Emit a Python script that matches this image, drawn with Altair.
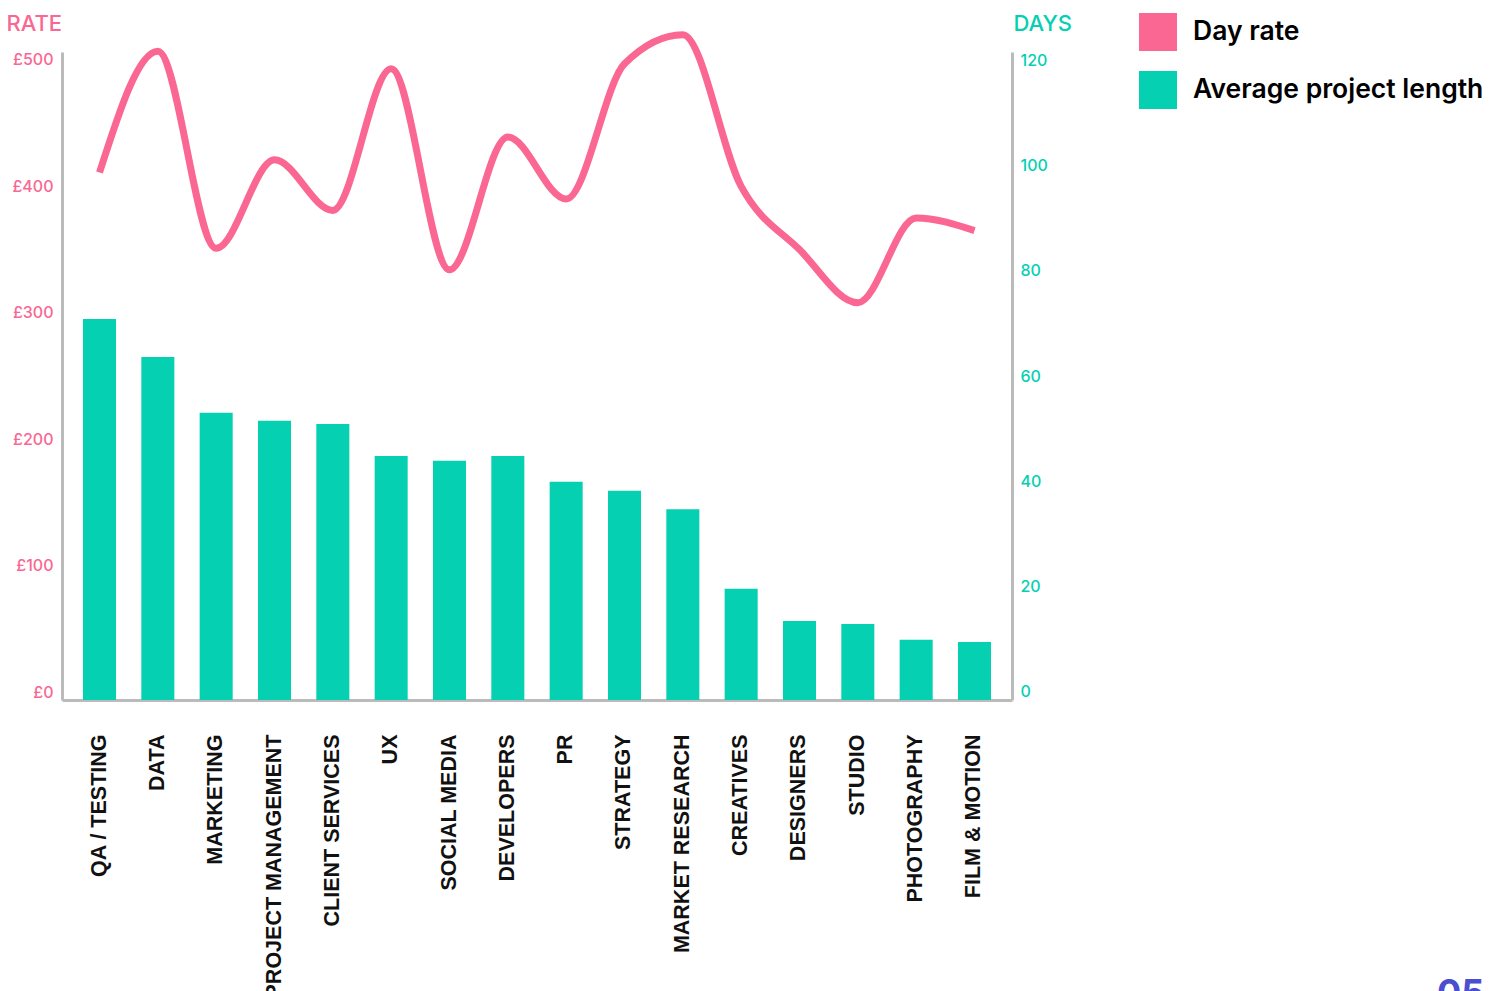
import altair as alt
import pandas as pd

categories = [
    "QA / TESTING", "DATA", "MARKETING", "PROJECT MANAGEMENT", "CLIENT SERVICES",
    "UX", "SOCIAL MEDIA", "DEVELOPERS", "PR", "STRATEGY", "MARKET RESEARCH",
    "CREATIVES", "DESIGNERS", "STUDIO", "PHOTOGRAPHY", "FILM & MOTION",
]
day_rate = [411, 507, 351, 421, 381, 493, 334, 439, 390, 497, 520, 400, 350, 308, 375, 365]
project_days = [70.8, 63.6, 53.0, 51.5, 50.9, 44.8, 43.9, 44.8, 39.9, 38.2, 34.7, 19.6, 13.5, 12.9, 9.9, 9.5]
series_names = ["Day rate", "Average project length"]
rate_ticks = [0, 100, 200, 300, 400, 500]
day_ticks = [0, 20, 40, 60, 80, 100, 120]

PINK = "#FA6792"
TEAL = "#05D0B2"
GREY = "#BBBBBB"
W, H = 950, 648
RATE_DOMAIN = [-6.329, 506.329]
DAYS_DOMAIN = [-1.519, 121.519]

df = pd.DataFrame({
    "category": categories,
    "rate": day_rate,
    "days": project_days,
    "series": [series_names[1]] * len(categories),
})

x_axis = alt.Axis(
    title=None, labelAngle=-90, labelAlign="right", labelBaseline="middle",
    labelFont="Liberation Sans", labelFontSize=21.5, labelFontWeight="bold",
    labelColor="#111111",
    labelPadding=34, ticks=False, tickSize=0, domainColor=GREY, domainWidth=3,
    labelLimit=1000, labelOverlap=False, grid=False,
)
x_enc = alt.X(
    "category:N", sort=categories,
    scale=alt.Scale(paddingInner=0.434, paddingOuter=0.36),
    axis=x_axis,
)

line = alt.Chart(df).mark_line(
    color=PINK, strokeWidth=7, interpolate="monotone"
).encode(
    x=x_enc,
    y=alt.Y(
        "rate:Q",
        scale=alt.Scale(domain=RATE_DOMAIN, nice=False, zero=False),
        axis=alt.Axis(
            orient="left", values=rate_ticks, labelExpr="'£' + datum.value",
            labelColor=PINK, labelFont="Inter", labelFontSize=16, labelFontWeight=500,
            labelPadding=9, ticks=False, tickSize=0, grid=False,
            domainColor=GREY, domainWidth=3,
            title="RATE", titleAngle=0, titleX=-56, titleY=-22, titleAlign="left",
            titleBaseline="alphabetic", titleFont="Inter", titleFontSize=22,
            titleFontWeight=500, titleColor=PINK,
        ),
    ),
)

bars = alt.Chart(df).mark_bar(opacity=1).encode(
    x=x_enc,
    y=alt.Y(
        "days:Q",
        scale=alt.Scale(domain=DAYS_DOMAIN, nice=False, zero=False),
        axis=alt.Axis(
            orient="right", values=day_ticks,
            labelColor=TEAL, labelFont="Inter", labelFontSize=16, labelFontWeight=500,
            labelPadding=8, ticks=False, tickSize=0, grid=False,
            domainColor=GREY, domainWidth=3,
            title="DAYS", titleAngle=0, titleX=1, titleY=-22, titleAlign="left",
            titleBaseline="alphabetic", titleFont="Inter", titleFontSize=22,
            titleFontWeight=500, titleColor=TEAL,
        ),
    ),
    y2=alt.datum(DAYS_DOMAIN[0]),
    color=alt.Color(
        "series:N",
        scale=alt.Scale(domain=series_names, range=[PINK, TEAL]),
        legend=alt.Legend(
            title=None, orient="none", legendX=1077, legendY=-39,
            symbolType="square", symbolSize=1444, symbolStrokeWidth=0,
            symbolOpacity=1, labelFont="Inter", labelFontSize=26.5,
            labelFontWeight=600, labelColor="#000000", labelOffset=16,
            rowPadding=20, padding=0, labelLimit=1000,
        ),
    ),
)

page = alt.Chart(pd.DataFrame({"t": ["05"]})).mark_text(
    font="Inter", fontSize=36, fontWeight=700, color="#4A4FCF",
    align="left", baseline="top",
).encode(text="t:N", x=alt.value(1375), y=alt.value(925))

chart = alt.layer(line, bars, page).resolve_scale(
    y="independent"
).properties(
    width=W, height=H,
    autosize=alt.AutoSizeParams(type="none"),
    padding={"left": 54, "top": 44, "right": 478, "bottom": 291},
).configure_view(strokeWidth=0)

chart.save("out.html", embed_options={"renderer": "svg", "actions": False})
